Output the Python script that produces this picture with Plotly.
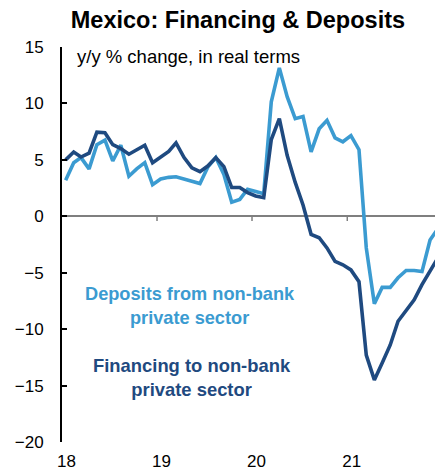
import pandas as pd
import plotly.graph_objects as go

# ---- data (monthly, y/y % change in real terms) ----
months = pd.date_range("2018-01-01", periods=48, freq="MS") + pd.Timedelta(days=14)

financing = [
    5.0, 5.7, 5.25, 5.6, 7.45, 7.4, 6.35, 6.0, 5.5, 5.9, 6.3, 4.75,
    5.25, 5.75, 6.5, 5.2, 4.3, 3.95, 4.45, 5.2, 4.4, 2.55, 2.55, 2.1,
    1.8, 1.65, 6.8, 8.65, 5.4, 3.0, 1.0, -1.6, -1.9, -2.8, -4.0, -4.3,
    -4.75, -5.8, -12.3, -14.5, -13.0, -11.4, -9.3, -8.4, -7.4, -6.05, -4.8, -3.7,
]
deposits = [
    3.2, 4.75, 5.2, 4.2, 6.35, 6.75, 4.9, 6.3, 3.55, 4.2, 4.75, 2.8,
    3.3, 3.45, 3.5, 3.3, 3.05, 2.9, 4.35, 5.2, 3.7, 1.25, 1.5, 2.4,
    2.2, 2.0, 10.15, 13.15, 10.6, 8.65, 8.85, 5.7, 7.75, 8.5, 6.95, 6.6,
    7.15, 5.9, -2.8, -7.75, -6.3, -6.3, -5.45, -4.8, -4.8, -4.9, -2.1, -1.1,
]

year_ticks = ["2018-01-01", "2019-01-01", "2020-01-01", "2021-01-01"]
year_label_pos = ["2018-01-18", "2019-01-18", "2020-01-18", "2021-01-18"]
year_labels = ["18", "19", "20", "21"]
y_ticks = [15, 10, 5, 0, -5, -10, -15, -20]

LIGHT = "#3B9BD1"
DARK = "#1F4A80"
FONT = "Liberation Sans, Arial, sans-serif"

fig = go.Figure()
fig.add_trace(go.Scatter(x=months, y=deposits, mode="lines",
                         line=dict(color=LIGHT, width=3.6), name="Deposits"))
fig.add_trace(go.Scatter(x=months, y=financing, mode="lines",
                         line=dict(color=DARK, width=3.6), name="Financing"))

# small tick marks on the zero line
for t in year_ticks[1:]:
    fig.add_shape(type="line", xref="x", yref="y", x0=t, x1=t, y0=0, y1=-0.42,
                  line=dict(color="#7f7f7f", width=1.5), layer="below")

fig.update_layout(
    width=435, height=472,
    margin=dict(l=62, r=0, t=47, b=30),
    paper_bgcolor="white", plot_bgcolor="white",
    showlegend=False,
    font=dict(family=FONT, size=17, color="black"),
    title=dict(text="<b>Mexico: Financing & Deposits</b>",
               x=0.547, xanchor="center", y=1 - 20 / 472, yanchor="middle",
               font=dict(family=FONT, size=23.5, color="black")),
)
fig.update_xaxes(
    type="date", range=["2018-01-01", "2021-12-04"],
    tickvals=year_label_pos, ticktext=year_labels,
    showgrid=False, showline=False, ticks="", zeroline=False,
    tickfont=dict(size=17, color="black"), ticklabelstandoff=7,
)
fig.update_yaxes(
    range=[-20, 15], tickvals=y_ticks,
    showgrid=False, showline=True, linecolor="black", linewidth=2,
    ticks="inside", ticklen=5, tickwidth=1.5, tickcolor="black",
    zeroline=True, zerolinecolor="#7f7f7f", zerolinewidth=1.5,
    tickfont=dict(size=17, color="black"), ticklabelstandoff=13,
)

fig.add_annotation(text="y/y % change, in real terms", xref="paper", yref="paper",
                   x=(75 - 62) / 373, y=(442 - 56.5) / 395, xanchor="left", yanchor="middle",
                   showarrow=False, font=dict(family=FONT, size=18.5, color="black"))
fig.add_annotation(text="<b>Deposits from non-bank<br>private sector</b>", xref="paper", yref="paper",
                   x=(190 - 62) / 373, y=(442 - 306) / 395, xanchor="center", yanchor="middle",
                   showarrow=False, align="center",
                   font=dict(family=FONT, size=18.2, color=LIGHT))
fig.add_annotation(text="<b>Financing to non-bank<br>private sector</b>", xref="paper", yref="paper",
                   x=(192 - 62) / 373, y=(442 - 377) / 395, xanchor="center", yanchor="middle",
                   showarrow=False, align="center",
                   font=dict(family=FONT, size=18.4, color=DARK))

fig.write_html("out.html")
